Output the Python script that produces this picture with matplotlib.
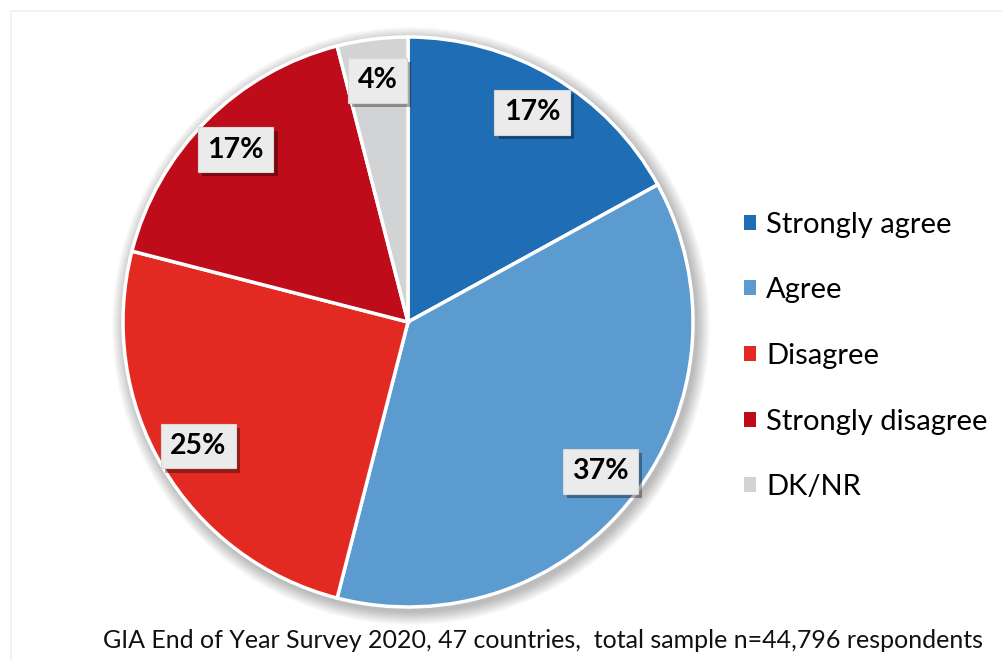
import matplotlib
matplotlib.use("Agg")
import matplotlib.pyplot as plt
from matplotlib.patches import Circle, Rectangle
import matplotlib.patheffects as pe

# Survey response shares (%)
categories = ["Strongly agree", "Agree", "Disagree", "Strongly disagree", "DK/NR"]
shares = [17, 37, 25, 17, 4]
colors = ["#1F6DB4", "#5B9BD0", "#E32A22", "#BE0C1A", "#D2D3D5"]
caption = "GIA End of Year Survey 2020, 47 countries,  total sample n=44,796 respondents"

plt.rcParams["font.family"] = ["Lato", "DejaVu Sans"]

W, H = 1002, 661
fig = plt.figure(figsize=(W / 100, H / 100), dpi=100)
ax = fig.add_axes([0, 0, 1, 1])
ax.set_xlim(0, W)
ax.set_ylim(0, H)
ax.set_aspect("equal")
ax.axis("off")

# faint frame
ax.add_patch(Rectangle((11, -20), W, H - 11 + 20, fill=False,
                       edgecolor="#f0f0f0", linewidth=1.2))

cx, cy, R = 408, H - 322, 285

# soft shadow behind the pie
for i in range(14):
    ax.add_patch(Circle((cx + 3, cy - 4), R + 14 - i, color="black",
                        alpha=0.018, linewidth=0, zorder=1))

wedges, texts, autotexts = ax.pie(
    shares, colors=colors, startangle=90, counterclock=False,
    center=(cx, cy), radius=R, autopct="%d%%", pctdistance=0.855,
    wedgeprops=dict(edgecolor="white", linewidth=2.5),
    textprops=dict(fontsize=20.5, fontweight="bold", color="black"),
)
for w in wedges:
    w.set_zorder(2)

for t in autotexts:
    t.set_zorder(5)
    t.set_bbox(dict(boxstyle="square,pad=0.33", facecolor="#EBEBEB",
                    edgecolor="#D8D8D8", linewidth=0.8))
    t.get_bbox_patch().set_path_effects([
        pe.SimplePatchShadow(offset=(3, -3), shadow_rgbFace="black", alpha=0.35),
        pe.Normal()])

ax.set_xlim(0, W)
ax.set_ylim(0, H)

leg = ax.legend(wedges, categories, loc="upper left",
                bbox_to_anchor=(729 / W, 1 - 197 / H), bbox_transform=fig.transFigure,
                frameon=False, fontsize=21, handlelength=0.42, handleheight=0.42,
                handletextpad=0.36, labelspacing=1.36, borderpad=0)
for h in leg.legend_handles:
    h.set_edgecolor("none")

fig.text(543 / W, 1 - 641 / H, caption, ha="center", va="center", fontsize=18,
         color="#111111")

fig.savefig("out.png", dpi=100, facecolor="white")
